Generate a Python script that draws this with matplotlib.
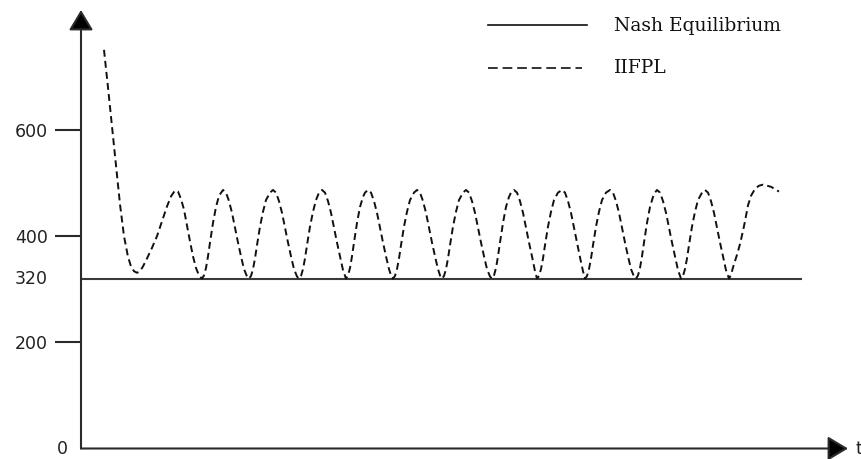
import matplotlib.pyplot as plt
from matplotlib.lines import Line2D

plt.rcParams['lines.scale_dashes'] = False

# values (t in arbitrary time units, y in the chart's scale)
nash_value = 320
nash_t = [0, 721]

t = [23, 27, 31, 35, 39, 43, 47, 50, 53, 56, 59, 62, 66, 71, 76, 81, 86, 90, 94,
     97, 100, 103, 106, 109, 112, 115, 118, 121,
     123, 125, 127, 129, 132, 135, 138, 142, 145, 148, 151, 154, 157, 160, 163, 166, 168,
     170, 172, 174, 176, 179, 182, 185, 189, 192, 195, 198, 201, 204, 207, 210, 213, 216, 218,
     220, 222, 224, 226, 229, 232, 235, 238, 241, 244, 247, 250, 253, 256, 259, 262, 265,
     267, 269, 271, 273, 276, 279, 282, 284, 287, 290, 293, 296, 299, 302, 305, 308, 310, 312,
     314, 316, 318, 320, 323, 326, 329, 333, 336, 339, 342, 345, 348, 351, 354, 357, 359, 361,
     363, 365, 367, 369, 372, 375, 378, 382, 385, 388, 391, 394, 397, 400, 403, 406, 409, 411,
     413, 415, 417, 419, 422, 425, 428, 430, 433, 436, 439, 442, 445, 448, 451, 454, 456,
     458, 460, 462, 464, 467, 470, 473, 477, 481, 484, 487, 490, 493, 496, 499, 502, 504,
     506, 508, 510, 512, 515, 518, 521, 525, 529, 532, 535, 538, 541, 544, 547, 550, 553, 555,
     557, 559, 561, 563, 566, 569, 572, 574, 576, 579, 582, 585, 588, 591, 594, 597, 600,
     602, 604, 606, 608, 611, 614, 617, 621, 624, 627, 630, 633, 636, 639, 642, 645, 648,
     650, 652, 656, 659, 662, 664, 667, 670, 674, 678, 682, 690, 698]
iifpl = [751, 680, 606, 530, 460, 400, 361, 343, 334, 331, 334, 343, 358, 378, 400, 428, 456, 475, 486,
         484, 470, 450, 420, 390, 362, 340, 326, 320,
         326, 340, 362, 388, 425, 455, 476, 487, 482, 466, 444, 416, 388, 362, 338, 324, 320,
         325, 338, 358, 383, 418, 446, 468, 482, 487, 482, 466, 444, 416, 388, 362, 338, 324, 320,
         325, 338, 358, 383, 418, 446, 468, 482, 487, 482, 466, 444, 416, 388, 362, 336, 320,
         326, 340, 362, 388, 425, 455, 474, 482, 487, 482, 466, 444, 416, 388, 362, 338, 326, 320,
         325, 338, 358, 383, 418, 446, 468, 482, 487, 482, 466, 444, 416, 388, 362, 338, 326, 320,
         325, 338, 358, 383, 418, 446, 468, 482, 487, 482, 466, 444, 416, 388, 362, 338, 324, 320,
         326, 340, 362, 388, 425, 455, 474, 482, 487, 482, 466, 444, 416, 388, 362, 334, 320,
         325, 338, 358, 383, 418, 446, 468, 482, 487, 482, 466, 444, 416, 388, 360, 334, 320,
         325, 338, 358, 383, 418, 446, 468, 482, 487, 482, 466, 444, 416, 388, 362, 338, 324, 320,
         326, 340, 362, 388, 425, 455, 474, 482, 487, 482, 466, 444, 416, 388, 362, 336, 320,
         325, 338, 358, 383, 418, 446, 468, 482, 487, 482, 466, 444, 416, 388, 362, 336, 320,
         327, 341, 365, 385, 410, 428, 458, 476, 489, 495, 497, 493, 484]

ticks = [200, 400, 600]
legend_labels = ['Nash Equilibrium', 'IIFPL']

W, H = 861, 459
fig = plt.figure(figsize=(W / 100, H / 100), dpi=100)
ax = fig.add_axes([81 / W, (H - 448.5) / H, (848 - 81) / W, (448.5 - 10) / H])
ax.set_xlim(0, 767)
ax.set_ylim(0, 826)
for s in ax.spines.values():
    s.set_visible(False)
ax.set_xticks([])

axis_col = '#2a2a2a'
ax.set_yticks(ticks)
ax.set_yticklabels([str(v) for v in ticks])
ax.tick_params(axis='y', length=18.75, width=1.5, color=axis_col, pad=5,
               labelsize=12.5, labelcolor='#222222')

# axes with arrow heads
arrow = dict(arrowstyle='-|>,head_length=12.5,head_width=7.5', mutation_scale=1,
             shrinkA=0, shrinkB=0, lw=1.5, color=axis_col, fc='black')
ax.annotate('', xy=(0, 1), xytext=(0, 0), xycoords='axes fraction', arrowprops=arrow)
ax.annotate('', xy=(1, 0), xytext=(0, 0), xycoords='axes fraction', arrowprops=arrow)

ax.text(-33, nash_value, '320', ha='right', va='center', fontsize=12.5, color='#222222')
ax.text(-13, 0, '0', ha='right', va='center', fontsize=12.5, color='#222222')
ax.text(774, 0, 't', ha='left', va='center', fontsize=12.5, color='#222222', clip_on=False)

ax.plot(nash_t, [nash_value, nash_value], color='#3a3a3a', lw=1.5, solid_capstyle='butt')
ax.plot(t, iifpl, color='#111111', lw=1.4, dashes=(5, 3))

# hand-drawn legend in figure pixels
def fx(x):
    return x / W

def fy(y):
    return 1 - y / H

fig.add_artist(Line2D([fx(488), fx(587)], [fy(25), fy(25)], color='#111111', lw=1.2))
fig.add_artist(Line2D([fx(488), fx(582)], [fy(68), fy(68)], color='#111111', lw=1.2,
                      dashes=(7, 3.5)))
fig.text(fx(614), fy(26), legend_labels[0], family='DejaVu Serif', fontsize=13.5,
         va='center', ha='left', color='#111111')
fig.text(fx(614), fy(68), legend_labels[1], family='DejaVu Serif', fontsize=13.5,
         va='center', ha='left', color='#111111')

fig.savefig('out.png', dpi=100)
